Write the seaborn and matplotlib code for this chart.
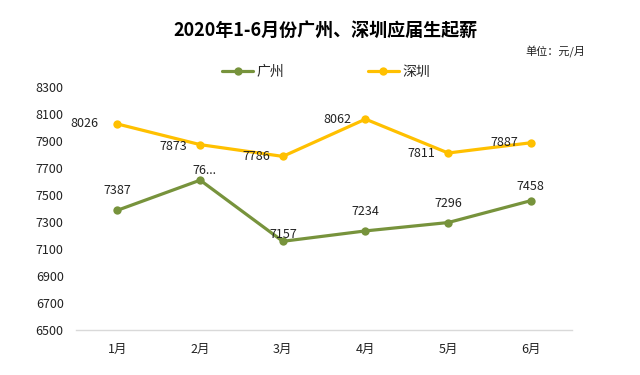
import pandas as pd
import seaborn as sns
import matplotlib.pyplot as plt

months = ['1月', '2月', '3月', '4月', '5月', '6月']
guangzhou = [7387, 7610, 7157, 7234, 7296, 7458]
shenzhen = [8026, 7873, 7786, 8062, 7811, 7887]
gz_labels = ['7387', '76...', '7157', '7234', '7296', '7458']
sz_labels = ['8026', '7873', '7786', '8062', '7811', '7887']
yticks = list(range(6500, 8301, 200))

df = pd.DataFrame({
    'month': months * 2,
    'salary': guangzhou + shenzhen,
    'city': ['广州'] * 6 + ['深圳'] * 6,
})

sns.set_theme(style='white')
plt.rcParams['font.family'] = ['Noto Sans CJK SC', 'DejaVu Sans']

fig = plt.figure(figsize=(6.4, 3.75), dpi=100)
ax = fig.add_axes([0.119, 0.12, 0.775, 0.648])

palette = {'广州': '#77933C', '深圳': '#FFC000'}
sns.lineplot(data=df, x='month', y='salary', hue='city', palette=palette,
             marker='o', markersize=6, markeredgewidth=0, linewidth=2.3,
             sort=False, ax=ax)

# data labels
gz_off = [(0, 14), (3, 7), (0, 5), (0, 14), (0, 14), (0, 10)]
for i, (v, t) in enumerate(zip(guangzhou, gz_labels)):
    ax.annotate(t, (i, v), xytext=gz_off[i], textcoords='offset points',
                ha='center', va='center', fontsize=9, color='#222222')
sz_off = [(-24, 0), (-19, -1), (-19, 0), (-20, 0), (-19, 0), (-19, 0)]
for i, (v, t) in enumerate(zip(shenzhen, sz_labels)):
    ax.annotate(t, (i, v), xytext=sz_off[i], textcoords='offset points',
                ha='center', va='center', fontsize=9, color='#222222')

ax.set_xlim(-0.5, 5.5)
ax.set_ylim(6500, 8300)
ax.set_yticks(yticks)
ax.set_xlabel('')
ax.set_ylabel('')
ax.tick_params(axis='both', length=0, labelsize=9, colors='#222222')
ax.tick_params(axis='y', pad=9)
ax.tick_params(axis='x', pad=9)
for s in ['top', 'right', 'left']:
    ax.spines[s].set_visible(False)
ax.spines['bottom'].set_color('#D9D9D9')
ax.spines['bottom'].set_linewidth(1)

handles, labels = ax.get_legend_handles_labels()
ax.legend(handles, labels, loc='center', bbox_to_anchor=(0.51, 0.808),
          bbox_transform=fig.transFigure, ncol=2, frameon=False,
          fontsize=10, columnspacing=6, handlelength=2.2, handletextpad=0.3)

fig.text(0.508, 0.92, '2020年1-6月份广州、深圳应届生起薪', ha='center', va='center',
         fontsize=13, fontweight='bold', color='#000000')
fig.text(0.914, 0.861, '单位：元/月', ha='right', va='center', fontsize=8,
         color='#222222')

fig.savefig('out.png', dpi=100, facecolor='white')
